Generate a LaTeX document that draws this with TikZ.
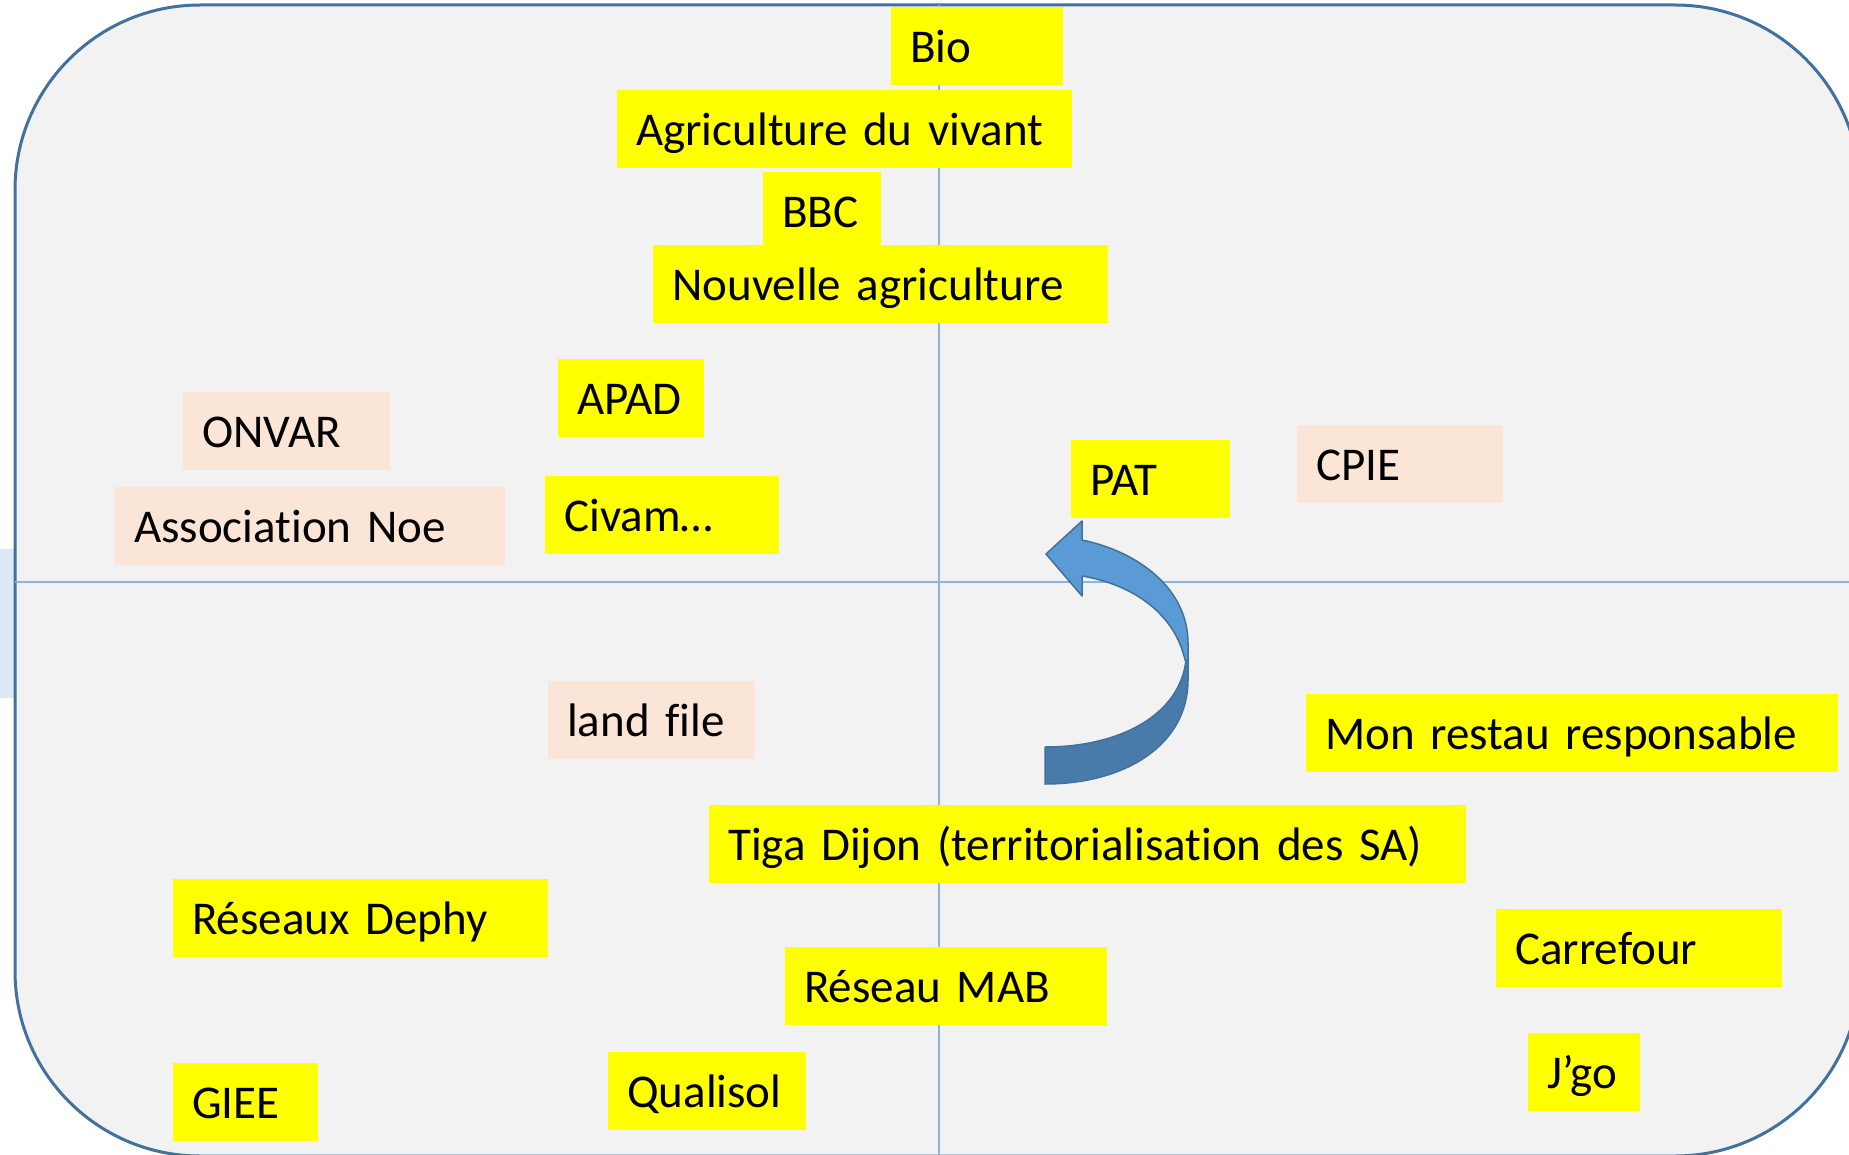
\documentclass[tikz,border=0pt]{standalone}
\usepackage{fontspec}
\setmainfont[Ligatures=NoCommon]{Carlito}
\definecolor{panelfill}{RGB}{242,242,242}
\definecolor{panelline}{RGB}{65,113,156}
\definecolor{axisline}{RGB}{141,180,226}
\definecolor{tabfill}{RGB}{221,233,246}
\definecolor{hiyellow}{RGB}{255,255,0}
\definecolor{peach}{RGB}{251,229,214}
\definecolor{arrowlight}{RGB}{91,155,213}
\definecolor{arrowdark}{RGB}{73,123,170}
\definecolor{arrowedge}{RGB}{65,113,156}
\tikzset{
  tagbox/.style={anchor=north west, inner xsep=19pt, inner ysep=0pt,
    minimum height=78pt, text height=32pt, text depth=0pt, align=left,
    font=\fontsize{47pt}{47pt}\selectfont},
  ybox/.style={tagbox, fill=hiyellow},
  pbox/.style={tagbox, fill=peach},
  axis/.style={draw=axisline, line width=1.6pt},
  band/.style={draw=arrowedge, line width=1.5pt, line join=round}
}
\begin{document}
\begin{tikzpicture}[x=1pt,y=-1pt]
\useasboundingbox (0,0) rectangle (1849,1155);
\fill[white] (0,0) rectangle (1849,1155);
\clip (0,0) rectangle (1849,1155);
% small tab on the left side
\fill[tabfill] (0,549) rectangle (15,698);
% rounded panel
\draw[fill=panelfill, draw=panelline, line width=3pt, rounded corners=185pt]
  (15,5) rectangle (1860,1156);
% axes
\draw[axis] (939,5) -- (939,1155);
\draw[axis] (15,582) -- (1849,582);
% curved arrow: back band, then front band with head
\path[band, fill=arrowdark]
  (1045,747) .. controls (1120,747) and (1180,715) .. (1186,660)
  -- (1188,660) -- (1188,680)
  .. controls (1188,745) and (1125,784) .. (1045,784) -- cycle;
\path[band, fill=arrowlight]
  (1082,540) .. controls (1140,552) and (1188,590) .. (1188,643)
  -- (1188,660) -- (1185,660)
  .. controls (1175,615) and (1135,585) .. (1082,576)
  -- (1082,596) -- (1046,554) -- (1082,521) -- cycle;
% labels
\node[ybox, text width=134pt] (bio) at (891,7) {Bio};
\node[ybox, text width=417pt] (agri) at (617,90) {Agriculture du vivant};
\node[ybox, text width=80pt] (bbc) at (763,172) {BBC};
\node[ybox, text width=417pt] (nouv) at (653,245) {Nouvelle agriculture};
\node[ybox, text width=108pt] (apad) at (558,359) {APAD};
\node[pbox, text width=169pt] (onvar) at (183,392) {ONVAR};
\node[pbox, text width=352pt] (noe) at (115,487) {Association Noe};
\node[ybox, text width=196pt] (civam) at (545,476) {Civam…};
\node[ybox, text width=121pt] (pat) at (1071,440) {PAT};
\node[pbox, text width=168pt] (cpie) at (1297,425) {CPIE};
\node[pbox, text width=169pt] (land) at (548,681) {land file};
\node[ybox, text width=494pt] (restau) at (1306,694) {Mon restau responsable};
\node[ybox, text width=719pt] (tiga) at (709,805) {Tiga Dijon (territorialisation des SA)};
\node[ybox, text width=337pt] (dephy) at (173,879) {Réseaux Dephy};
\node[ybox, text width=248pt] (carrefour) at (1496,909) {Carrefour};
\node[ybox, text width=284pt] (mab) at (785,947) {Réseau MAB};
\node[ybox, text width=74pt] (jgo) at (1528,1033) {J’go};
\node[ybox, text width=107pt] (giee) at (173,1063) {GIEE};
\node[ybox, text width=160pt] (qualisol) at (608,1052) {Qualisol};
\end{tikzpicture}
\end{document}
